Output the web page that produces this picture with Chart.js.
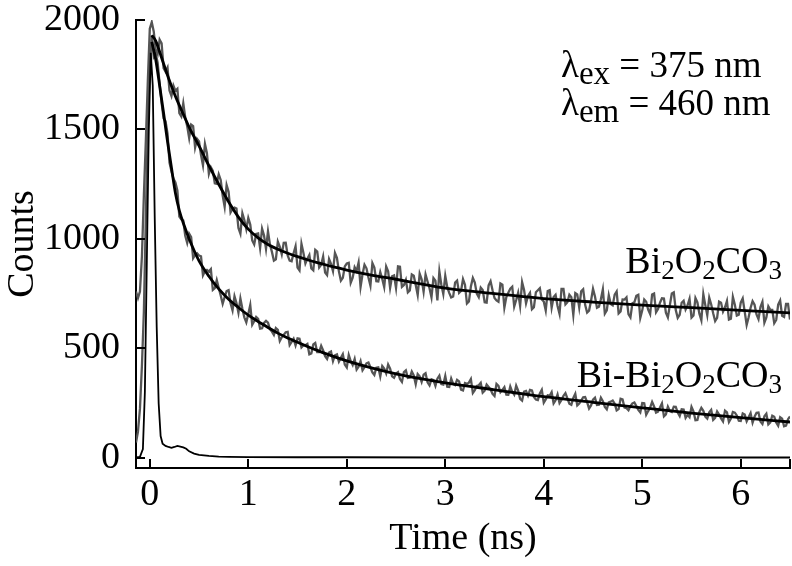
<!DOCTYPE html>
<html><head><meta charset="utf-8">
<script src="https://cdn.jsdelivr.net/npm/chart.js@4/dist/chart.umd.min.js"></script>
<style>html,body{margin:0;padding:0;background:#fff}</style>
</head><body>
<canvas id="c" width="792" height="566"></canvas>
<script>
const xTicks = [0, 1, 2, 3, 4, 5, 6];
const yTicks = [0, 500, 1000, 1500, 2000];
const channelStart = -0.14, channelWidth = 0.02;

const bi2o2co3Counts = [
760,730,760,920,1200,1450,1720,1960,1990,1948,
1865,1845,1910,1893,1780,1764,1783,1678,1653,1700,
1677,1686,1575,1560,1620,1555,1515,1461,1522,1515,
1418,1457,1445,1383,1336,1434,1392,1298,1328,1311,
1254,1252,1295,1269,1198,1147,1246,1216,1121,1137,
1143,1139,1050,1024,1117,1086,1045,1096,1066,993,
975,1023,1025,959,1047,1016,955,1035,975,941,
901,907,988,964,930,982,983,925,901,898,
935,967,869,856,978,936,888,910,927,865,
857,950,942,870,882,920,847,835,908,886,
853,936,914,852,810,823,875,888,891,800,
823,871,854,893,781,839,882,866,824,787,
890,869,807,806,849,817,780,874,852,776,
829,833,776,875,873,781,789,813,756,765,
838,832,790,744,842,816,759,838,806,775,
733,822,810,719,852,791,749,832,780,754,
733,737,801,810,754,763,817,791,705,714,
783,822,801,750,734,778,767,711,709,788,
807,766,730,719,713,797,791,686,735,754,
773,782,691,721,755,694,803,767,706,740,
754,679,688,757,766,775,724,714,673,762,
766,686,735,745,694,658,772,772,701,711,
745,734,653,753,747,687,761,770,699,664,
673,718,772,737,686,691,725,770,659,674,
743,703,697,746,760,660,669,724,723,733,
657,642,706,711,740,745,639,674,723,713,
677,657,746,751,665,680,709,729,728,663,
642,697,751,756,675,640,654,709,718,678,
697,727,641,651,730,710,659,629,748,698,
652,732,701,661,625,640,714,709,668,688,
717,632,636,736,700,650,654,709,728,668,
607,642,686,716,700,655,634,689,713,618,
642,692,676,676,615,630,700,719,649,644,
703,703,632];

const biBi2o2co3Counts = [
70,120,224,420,668,1100,1516,1780,1930,1832,
1848,1804,1708,1622,1551,1538,1481,1349,1309,1276,
1258,1222,1102,1089,1084,1015,982,1024,1009,912,
927,934,924,921,834,853,859,851,862,767,
775,812,776,742,704,735,762,766,706,674,
738,707,663,728,681,642,619,657,698,608,
624,644,635,590,592,617,626,618,588,577,
562,593,585,534,551,562,574,576,516,530,
544,514,546,544,505,515,515,521,473,477,
518,525,483,483,512,491,465,452,481,486,
442,469,473,440,457,474,426,413,470,442,
424,452,404,417,442,400,414,432,436,414,
391,379,412,414,372,420,408,386,427,408,
373,366,386,392,360,347,392,400,365,367,
395,377,337,383,373,347,380,387,345,331,
359,355,329,362,376,337,335,374,325,324,
363,338,333,357,350,312,308,342,338,344,
360,297,310,329,332,343,298,307,335,324,
312,293,283,338,329,300,311,323,289,288,
326,302,289,330,308,270,262,303,306,285,
311,308,278,267,264,295,311,252,267,286,
284,300,249,263,290,251,265,284,296,272,
248,243,274,293,240,249,262,277,278,255,
226,240,266,275,242,243,275,259,233,222,
254,257,262,248,217,223,270,267,230,227,
218,237,249,253,237,219,208,251,250,197,
214,230,256,235,207,211,230,249,190,199,
234,214,210,234,233,207,191,222,221,183,
197,186,233,213,172,173,210,229,215,189,
180,208,219,174,183,212,198,181,167,216,
208,164,180,210,207,194,170,169,203,198,
167,186,205,161,188,206,207,166,155,190,
202,153,162,193,188,162,147,186,179,145,
148,177,189];

const fitTimes = [0.02,0.06,0.1,0.14,0.18,0.22,0.26,0.3,0.35,0.4,0.5,0.6,0.7,0.8,0.9,1.0,1.1,1.2,1.3,1.4,1.5,1.6,1.7,1.8,1.9,2.0,2.25,2.5,2.75,3.0,3.5,4.0,4.5,5.0,5.5,6.0,6.5];
const bi2o2co3Fit = [1930,1905,1855,1800,1748,1698,1652,1610,1560,1510,1425,1335,1250,1170,1100,1045,1005,975,953,935,919,905,892,880,869,858,835,816,795,775,750,728,712,698,686,674,662];
const biBi2o2co3Fit = [1900,1820,1700,1575,1445,1325,1210,1130,1060,1000,900,830,772,725,687,652,623,596,570,548,528,509,491,474,458,443,411,384,362,343,311,280,254,229,205,184,164];

const irfTimes = [-0.14,-0.1,-0.07,-0.05,-0.03,-0.01,0.01,0.03,0.05,0.07,0.09,0.11,0.13,0.16,0.19,0.22,0.25,0.28,0.31,0.34,0.37,0.4,0.45,0.5,0.6,0.7,0.8,1.0,1.5,2,3,4,5,6,6.5];
const irfCounts = [2,5,40,300,900,1500,1850,1700,1100,600,250,100,65,55,50,46,50,55,52,48,42,30,20,14,9,6,5,4,3,3,2,2,2,2,2];

function channelPoints(arr){ return arr.map((v,i)=>({x: channelStart + i*channelWidth, y: v})); }
function pairPoints(ts, vs){ return ts.map((t,i)=>({x: t, y: vs[i]})); }

const SERIF = '"Liberation Serif", "Times New Roman", serif';
const FS = 38;

const inwardTicks = {
  id: 'inwardTicks',
  afterDatasetsDraw(chart){
    const {ctx, chartArea: a, scales: {x, y}} = chart;
    ctx.save();
    ctx.strokeStyle = '#000'; ctx.lineWidth = 2;
    ctx.beginPath();
    [...xTicks, x.max].forEach(v => { const px = Math.round(x.getPixelForValue(v)); ctx.moveTo(px, a.bottom); ctx.lineTo(px, a.bottom - 9); });
    yTicks.forEach(v => { const py = Math.round(y.getPixelForValue(v)); ctx.moveTo(a.left, py); ctx.lineTo(a.left + 9, py); });
    ctx.stroke();
    ctx.restore();
  }
};

function drawRich(ctx, parts, x, base, size, align){
  const fonts = parts.map(p => `${Math.round(size*(p.s||1))}px ${SERIF}`);
  let w = 0;
  parts.forEach((p,i)=>{ ctx.font = fonts[i]; w += ctx.measureText(p.t).width; });
  let cx = align === 'right' ? x - w : x;
  parts.forEach((p,i)=>{ ctx.font = fonts[i]; ctx.fillText(p.t, cx, base + (p.dy||0)); cx += ctx.measureText(p.t).width; });
}

const labels = {
  id: 'labels',
  afterDraw(chart){
    const ctx = chart.ctx;
    ctx.save();
    ctx.fillStyle = '#000';
    ctx.textBaseline = 'alphabetic';
    drawRich(ctx, [{t:'λ'},{t:'ex', s:0.9, dy:7},{t:' = 375 nm'}], 561, 77, 36.5, 'left');
    drawRich(ctx, [{t:'λ'},{t:'em', s:0.9, dy:7},{t:' = 460 nm'}], 561, 115, 36.5, 'left');
    const sub = {s:0.72, dy:6};
    drawRich(ctx, [{t:'Bi'},{t:'2',...sub},{t:'O'},{t:'2',...sub},{t:'CO'},{t:'3',...sub}], 782, 273, 38, 'right');
    drawRich(ctx, [{t:'Bi-Bi'},{t:'2',...sub},{t:'O'},{t:'2',...sub},{t:'CO'},{t:'3',...sub}], 782, 387, 38, 'right');
    ctx.restore();
  }
};

new Chart(document.getElementById('c'), {
  type: 'line',
  data: {
    datasets: [
      { label: 'Bi2O2CO3 fit', data: pairPoints(fitTimes, bi2o2co3Fit), borderColor: '#000', borderWidth: 2.8, pointRadius: 0, cubicInterpolationMode: 'monotone', order: 1 },
      { label: 'Bi-Bi2O2CO3 fit', data: pairPoints(fitTimes, biBi2o2co3Fit), borderColor: '#000', borderWidth: 2.8, pointRadius: 0, cubicInterpolationMode: 'monotone', order: 1 },
      { label: 'IRF', data: pairPoints(irfTimes, irfCounts), borderColor: '#000', borderWidth: 1.8, pointRadius: 0, order: 2 },
      { label: 'Bi2O2CO3', data: channelPoints(bi2o2co3Counts), borderColor: '#555555', borderWidth: 2.3, pointRadius: 0, order: 3 },
      { label: 'Bi-Bi2O2CO3', data: channelPoints(biBi2o2co3Counts), borderColor: '#555555', borderWidth: 2.3, pointRadius: 0, order: 3 }
    ]
  },
  options: {
    responsive: false,
    animation: false,
    layout: { padding: { left: 0, right: 2, top: 20, bottom: 0 } },
    plugins: { legend: { display: false }, tooltip: { enabled: false } },
    scales: {
      x: {
        type: 'linear', min: -0.14, max: 6.5,
        afterBuildTicks: s => { s.ticks = xTicks.map(v => ({value: v})); },
        afterFit: s => { s.height = 98; },
        grid: { display: false },
        border: { display: true, color: '#000', width: 2 },
        ticks: { color: '#000', padding: 0, callback: v => String(v), font: { family: SERIF, size: FS, lineHeight: 1 } },
        title: { display: true, text: 'Time (ns)', color: '#000', padding: { top: 0, bottom: 4 }, font: { family: SERIF, size: FS } }
      },
      y: {
        type: 'linear', min: -46, max: 2000,
        afterBuildTicks: s => { s.ticks = yTicks.map(v => ({value: v})); },
        afterFit: s => { s.width = 136; },
        grid: { display: false },
        border: { display: true, color: '#000', width: 2 },
        ticks: { color: '#000', padding: 8, callback: v => String(v), font: { family: SERIF, size: FS, lineHeight: 0.4 } },
        title: { display: true, text: 'Counts', color: '#000', padding: 0, font: { family: SERIF, size: FS } }
      }
    }
  },
  plugins: [inwardTicks, labels]
});
</script>
</body></html>
